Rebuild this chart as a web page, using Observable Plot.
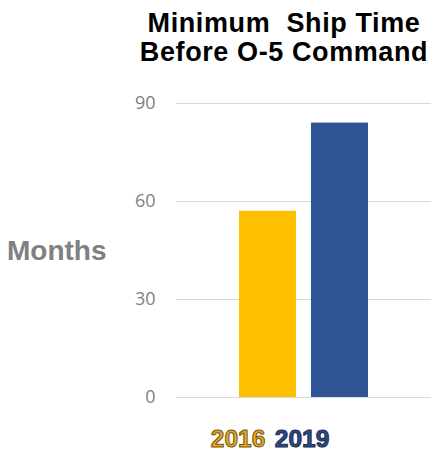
<!DOCTYPE html>
<html>
<head>
<meta charset="utf-8">
<script src="https://cdn.jsdelivr.net/npm/d3@7"></script>
<script src="https://cdn.jsdelivr.net/npm/@observablehq/plot@0.6"></script>
<style>
  html, body { margin: 0; padding: 0; background: #fff; }
  #wrap { position: relative; width: 438px; height: 464px; overflow: hidden; }
  #title { position: absolute; left: 123px; width: 322px; top: 9px; text-align: center;
    font-family: "Liberation Sans", Arial, sans-serif; font-weight: bold; font-size: 27px;
    line-height: 29px; color: #000; letter-spacing: 0.6px; white-space: nowrap; }
  #ylabel { position: absolute; left: 7px; top: 235px; font-family: "Liberation Sans", Arial, sans-serif;
    font-weight: bold; font-size: 28px; line-height: 32px; color: #808080; }
  #chart { position: absolute; left: 0; top: 0; }
</style>
</head>
<body>
<div id="wrap">
  <div id="chart"></div>
  <div id="title">Minimum&nbsp; Ship Time<br>Before O-5 Command</div>
  <div id="ylabel">Months</div>
</div>
<script>
const years = ["2016", "2019"];
const months = [57, 84];
const barColors = ["#ffc000", "#2f5597"];
const labelFill = ["#e2aa22", "#2e4a85"];
const labelStroke = ["#7a5510", "#1b2c52"];
const yTicks = [0, 30, 60, 90];

const data = years.map((y, i) => ({year: y, value: months[i], color: barColors[i]}));

const chart = Plot.plot({
  width: 438,
  height: 464,
  marginLeft: 176,
  marginRight: 7,
  marginTop: 103,
  marginBottom: 67,
  style: {background: "transparent", overflow: "visible"},
  x: {domain: years, paddingInner: 0.21, paddingOuter: 0.87, axis: null},
  y: {domain: [0, 90], ticks: yTicks, label: null},
  marks: [
    Plot.gridY(yTicks, {stroke: "#d9d9d9", strokeOpacity: 1, strokeWidth: 1}),
    Plot.axisY(yTicks, {tickSize: 0, tickPadding: 21, fontSize: 18, fill: "#7f7f7f",
      fontFamily: "'Open Sans', sans-serif", label: null}),
    Plot.barY(data, {x: "year", y: "value", fill: "color"}),
    ...years.map((yr, i) => Plot.text([yr], {
      x: d => d, text: d => d, frameAnchor: "bottom", lineAnchor: "bottom",
      dy: 49, dx: i === 0 ? -30 : -38,
      fontSize: 24.5, fontWeight: "bold", fontFamily: "'Liberation Sans', Arial, sans-serif",
      fill: labelFill[i], stroke: labelStroke[i], strokeWidth: 1, paintOrder: "normal"
    }))
  ]
});
document.getElementById("chart").appendChild(chart);
</script>
</body>
</html>
